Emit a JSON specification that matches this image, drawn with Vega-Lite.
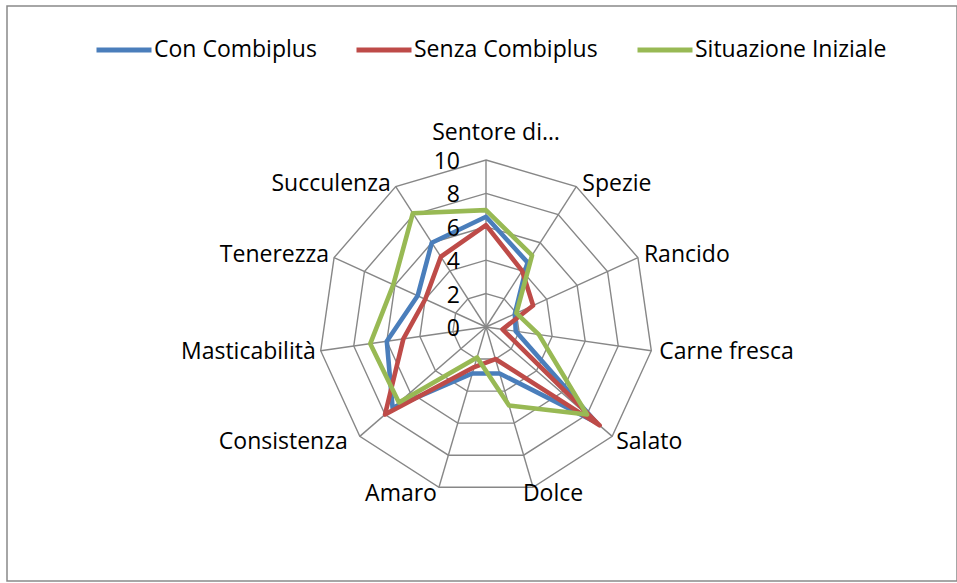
{
  "$schema": "https://vega.github.io/schema/vega-lite/v6.json",
  "width": 950,
  "height": 575,
  "autosize": {"type": "none"},
  "padding": {"left": 7, "top": 6, "right": 0, "bottom": 2},
  "background": "white",
  "config": {
    "view": {"stroke": "#898989", "strokeWidth": 1.5},
    "font": "Open Sans",
    "text": {"font": "Open Sans", "fontSize": 23, "color": "#000000"}
  },
  "datasets": {
    "axes": [
      {"k": 0, "name": "Sentore di…", "levels": [2, 4, 6, 8, 10]},
      {"k": 1, "name": "Spezie", "levels": [2, 4, 6, 8, 10]},
      {"k": 2, "name": "Rancido", "levels": [2, 4, 6, 8, 10]},
      {"k": 3, "name": "Carne fresca", "levels": [2, 4, 6, 8, 10]},
      {"k": 4, "name": "Salato", "levels": [2, 4, 6, 8, 10]},
      {"k": 5, "name": "Dolce", "levels": [2, 4, 6, 8, 10]},
      {"k": 6, "name": "Amaro", "levels": [2, 4, 6, 8, 10]},
      {"k": 7, "name": "Consistenza", "levels": [2, 4, 6, 8, 10]},
      {"k": 8, "name": "Masticabilità", "levels": [2, 4, 6, 8, 10]},
      {"k": 9, "name": "Tenerezza", "levels": [2, 4, 6, 8, 10]},
      {"k": 10, "name": "Succulenza", "levels": [2, 4, 6, 8, 10]}
    ],
    "ticks": [{"t": 0}, {"t": 2}, {"t": 4}, {"t": 6}, {"t": 8}, {"t": 10}],
    "series": [
      {"series": "Con Combiplus", "k": 0, "axis": "Sentore di…", "value": 6.6},
      {"series": "Con Combiplus", "k": 1, "axis": "Spezie", "value": 4.6},
      {"series": "Con Combiplus", "k": 2, "axis": "Rancido", "value": 1.9},
      {"series": "Con Combiplus", "k": 3, "axis": "Carne fresca", "value": 1.8},
      {"series": "Con Combiplus", "k": 4, "axis": "Salato", "value": 8.7},
      {"series": "Con Combiplus", "k": 5, "axis": "Dolce", "value": 2.9},
      {"series": "Con Combiplus", "k": 6, "axis": "Amaro", "value": 2.9},
      {"series": "Con Combiplus", "k": 7, "axis": "Consistenza", "value": 7.4},
      {"series": "Con Combiplus", "k": 8, "axis": "Masticabilità", "value": 6.0},
      {"series": "Con Combiplus", "k": 9, "axis": "Tenerezza", "value": 4.5},
      {"series": "Con Combiplus", "k": 10, "axis": "Succulenza", "value": 6.0},
      {"series": "Senza Combiplus", "k": 0, "axis": "Sentore di…", "value": 6.1},
      {"series": "Senza Combiplus", "k": 1, "axis": "Spezie", "value": 4.0},
      {"series": "Senza Combiplus", "k": 2, "axis": "Rancido", "value": 3.1},
      {"series": "Senza Combiplus", "k": 3, "axis": "Carne fresca", "value": 1.0},
      {"series": "Senza Combiplus", "k": 4, "axis": "Salato", "value": 9.0},
      {"series": "Senza Combiplus", "k": 5, "axis": "Dolce", "value": 2.0},
      {"series": "Senza Combiplus", "k": 6, "axis": "Amaro", "value": 2.5},
      {"series": "Senza Combiplus", "k": 7, "axis": "Consistenza", "value": 8.0},
      {"series": "Senza Combiplus", "k": 8, "axis": "Masticabilità", "value": 5.0},
      {"series": "Senza Combiplus", "k": 9, "axis": "Tenerezza", "value": 4.0},
      {"series": "Senza Combiplus", "k": 10, "axis": "Succulenza", "value": 5.0},
      {"series": "Situazione Iniziale", "k": 0, "axis": "Sentore di…", "value": 7.0},
      {"series": "Situazione Iniziale", "k": 1, "axis": "Spezie", "value": 5.1},
      {"series": "Situazione Iniziale", "k": 2, "axis": "Rancido", "value": 2.0},
      {"series": "Situazione Iniziale", "k": 3, "axis": "Carne fresca", "value": 3.2},
      {"series": "Situazione Iniziale", "k": 4, "axis": "Salato", "value": 8.0},
      {"series": "Situazione Iniziale", "k": 5, "axis": "Dolce", "value": 4.9},
      {"series": "Situazione Iniziale", "k": 6, "axis": "Amaro", "value": 1.9},
      {"series": "Situazione Iniziale", "k": 7, "axis": "Consistenza", "value": 6.9},
      {"series": "Situazione Iniziale", "k": 8, "axis": "Masticabilità", "value": 7.0},
      {"series": "Situazione Iniziale", "k": 9, "axis": "Tenerezza", "value": 6.1},
      {"series": "Situazione Iniziale", "k": 10, "axis": "Succulenza", "value": 8.1}
    ]
  },
  "layer": [
    {
      "data": {"name": "axes"},
      "transform": [
        {"flatten": ["levels"], "as": ["level"]},
        {"calculate": "datum.k * 2 * PI / 11", "as": "a"},
        {"calculate": "datum.level * sin(datum.a)", "as": "gx"},
        {"calculate": "datum.level * cos(datum.a)", "as": "gy"}
      ],
      "mark": {"type": "line", "interpolate": "linear-closed", "stroke": "#878787", "strokeWidth": 1.4},
      "encoding": {
        "x": {"field": "gx", "type": "quantitative", "scale": {"domain": [-28.683, 28.204], "nice": false, "zero": false}, "axis": null},
        "y": {"field": "gy", "type": "quantitative", "scale": {"domain": [-15.21, 19.222], "nice": false, "zero": false}, "axis": null},
        "detail": {"field": "level", "type": "nominal"},
        "order": {"field": "k", "type": "quantitative"}
      }
    },
    {
      "data": {"name": "axes"},
      "transform": [
        {"calculate": "datum.k * 2 * PI / 11", "as": "a"},
        {"calculate": "10 * sin(datum.a)", "as": "sx"},
        {"calculate": "10 * cos(datum.a)", "as": "sy"}
      ],
      "mark": {"type": "rule", "stroke": "#878787", "strokeWidth": 1.4},
      "encoding": {
        "x": {"field": "sx", "type": "quantitative", "scale": {"domain": [-28.683, 28.204], "nice": false, "zero": false}, "axis": null},
        "y": {"field": "sy", "type": "quantitative", "scale": {"domain": [-15.21, 19.222], "nice": false, "zero": false}, "axis": null},
        "x2": {"datum": 0},
        "y2": {"datum": 0}
      }
    },
    {
      "data": {"name": "series"},
      "transform": [
        {"calculate": "datum.k * 2 * PI / 11", "as": "a"},
        {"calculate": "datum.value * sin(datum.a)", "as": "px"},
        {"calculate": "datum.value * cos(datum.a)", "as": "py"}
      ],
      "mark": {"type": "line", "interpolate": "linear-closed", "strokeWidth": 4.6, "strokeJoin": "round", "strokeCap": "round"},
      "encoding": {
        "x": {"field": "px", "type": "quantitative", "scale": {"domain": [-28.683, 28.204], "nice": false, "zero": false}, "axis": null},
        "y": {"field": "py", "type": "quantitative", "scale": {"domain": [-15.21, 19.222], "nice": false, "zero": false}, "axis": null},
        "order": {"field": "k", "type": "quantitative"},
        "color": {
          "field": "series",
          "type": "nominal",
          "scale": {"domain": ["Con Combiplus", "Senza Combiplus", "Situazione Iniziale"], "range": ["#4A7EBB", "#BE4B48", "#98B954"]},
          "legend": {
            "orient": "none",
            "legendX": 87,
            "legendY": 14,
            "direction": "horizontal",
            "title": null,
            "symbolType": "stroke",
            "symbolSize": 3025,
            "symbolStrokeWidth": 4.8,
            "labelFontSize": 23,
            "labelFont": "Open Sans",
            "labelColor": "#000000",
            "labelLimit": 500,
            "columnPadding": 29,
            "labelOffset": 0,
            "padding": 0
          }
        }
      }
    },
    {
      "data": {"name": "ticks"},
      "mark": {"type": "text", "align": "right", "baseline": "middle", "dx": -26, "dy": 2, "fontSize": 23},
      "encoding": {
        "x": {"datum": 0},
        "y": {"field": "t", "type": "quantitative"},
        "text": {"field": "t", "type": "quantitative"}
      }
    },
    {
      "data": {"name": "axes"},
      "transform": [
        {"calculate": "datum.k * 2 * PI / 11", "as": "a"},
        {"calculate": "10 * sin(datum.a)", "as": "lx"},
        {"calculate": "10 * cos(datum.a)", "as": "ly"}
      ],
      "layer": [
        {
          "transform": [{"filter": "datum.k == 0"}],
          "mark": {"type": "text", "align": "center", "baseline": "middle", "dx": 10, "dy": -27, "fontSize": 23},
          "encoding": {"x": {"field": "lx", "type": "quantitative"}, "y": {"field": "ly", "type": "quantitative"}, "text": {"field": "name"}}
        },
        {
          "transform": [{"filter": "datum.k == 1 || datum.k == 2"}],
          "mark": {"type": "text", "align": "left", "baseline": "middle", "dx": 6, "dy": -3, "fontSize": 23},
          "encoding": {"x": {"field": "lx", "type": "quantitative"}, "y": {"field": "ly", "type": "quantitative"}, "text": {"field": "name"}}
        },
        {
          "transform": [{"filter": "datum.k == 3"}],
          "mark": {"type": "text", "align": "left", "baseline": "middle", "dx": 8, "dy": 1, "fontSize": 23},
          "encoding": {"x": {"field": "lx", "type": "quantitative"}, "y": {"field": "ly", "type": "quantitative"}, "text": {"field": "name"}}
        },
        {
          "transform": [{"filter": "datum.k == 4"}],
          "mark": {"type": "text", "align": "left", "baseline": "middle", "dx": 4, "dy": 6, "fontSize": 23},
          "encoding": {"x": {"field": "lx", "type": "quantitative"}, "y": {"field": "ly", "type": "quantitative"}, "text": {"field": "name"}}
        },
        {
          "transform": [{"filter": "datum.k == 5"}],
          "mark": {"type": "text", "align": "center", "baseline": "middle", "dx": 20, "dy": 7, "fontSize": 23},
          "encoding": {"x": {"field": "lx", "type": "quantitative"}, "y": {"field": "ly", "type": "quantitative"}, "text": {"field": "name"}}
        },
        {
          "transform": [{"filter": "datum.k == 6"}],
          "mark": {"type": "text", "align": "right", "baseline": "middle", "dx": -2, "dy": 7, "fontSize": 23},
          "encoding": {"x": {"field": "lx", "type": "quantitative"}, "y": {"field": "ly", "type": "quantitative"}, "text": {"field": "name"}}
        },
        {
          "transform": [{"filter": "datum.k == 7"}],
          "mark": {"type": "text", "align": "right", "baseline": "middle", "dx": -12, "dy": 6, "fontSize": 23},
          "encoding": {"x": {"field": "lx", "type": "quantitative"}, "y": {"field": "ly", "type": "quantitative"}, "text": {"field": "name"}}
        },
        {
          "transform": [{"filter": "datum.k == 8"}],
          "mark": {"type": "text", "align": "right", "baseline": "middle", "dx": -5, "dy": 1, "fontSize": 23},
          "encoding": {"x": {"field": "lx", "type": "quantitative"}, "y": {"field": "ly", "type": "quantitative"}, "text": {"field": "name"}}
        },
        {
          "transform": [{"filter": "datum.k == 9 || datum.k == 10"}],
          "mark": {"type": "text", "align": "right", "baseline": "middle", "dx": -5, "dy": -3, "fontSize": 23},
          "encoding": {"x": {"field": "lx", "type": "quantitative"}, "y": {"field": "ly", "type": "quantitative"}, "text": {"field": "name"}}
        }
      ]
    }
  ]
}
